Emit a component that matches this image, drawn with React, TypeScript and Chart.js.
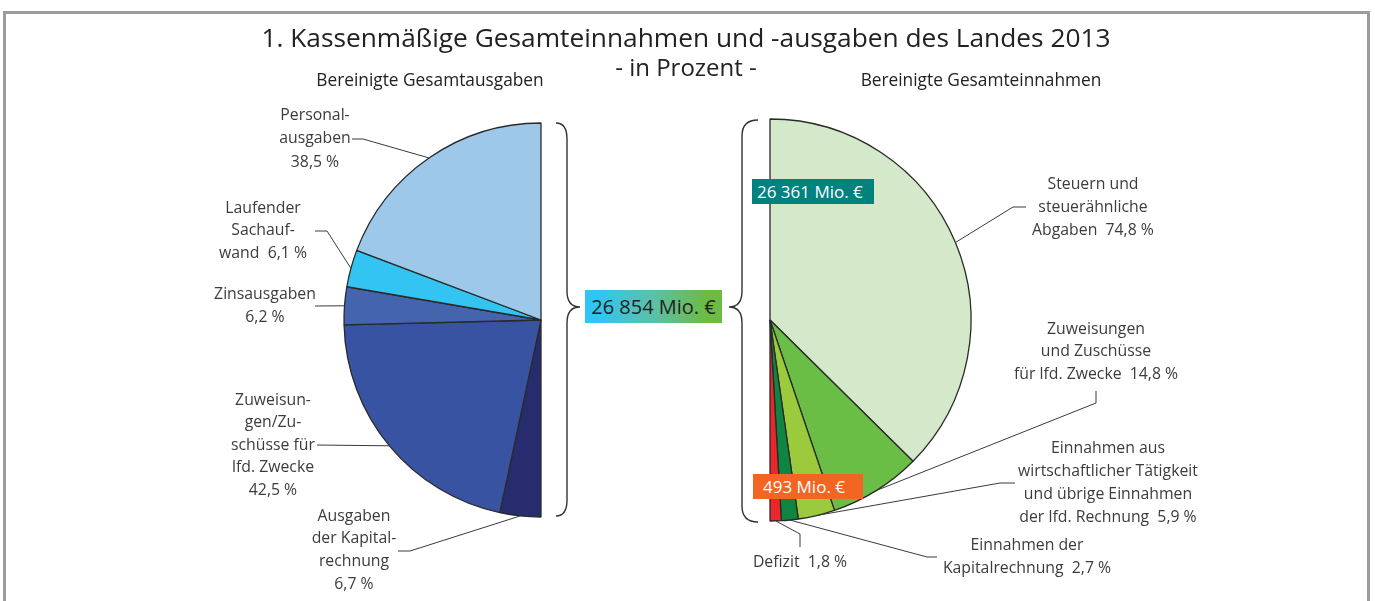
import React, { useEffect, useRef } from "react";
import { Chart, registerables } from "chart.js";
Chart.register(...registerables);

const W = 1375;
const H = 601;

// ---------- DATA ----------
// Bereinigte Gesamtausgaben (listed from bottom to top of the left half-pie)
const ausgabenLabels = [
  "Ausgaben der Kapitalrechnung",
  "Zuweisungen/Zuschüsse für lfd. Zwecke",
  "Zinsausgaben",
  "Laufender Sachaufwand",
  "Personalausgaben",
];
const ausgabenValues = [6.7, 42.5, 6.2, 6.1, 38.5];
const ausgabenText = [
  ["Ausgaben", "der Kapital-", "rechnung", "{v}"],
  ["Zuweisun-", "gen/Zu-", "schüsse für", "lfd. Zwecke", "{v}"],
  ["Zinsausgaben", "{v}"],
  ["Laufender", "Sachauf-", "wand  {v}"],
  ["Personal-", "ausgaben", "{v}"],
];

// Bereinigte Gesamteinnahmen (listed from top to bottom of the right half-pie)
const einnahmenLabels = [
  "Steuern und steuerähnliche Abgaben",
  "Zuweisungen und Zuschüsse für lfd. Zwecke",
  "Einnahmen aus wirtschaftlicher Tätigkeit und übrige Einnahmen der lfd. Rechnung",
  "Einnahmen der Kapitalrechnung",
  "Defizit",
];
const einnahmenValues = [74.8, 14.8, 5.9, 2.7, 1.8];
const einnahmenText = [
  ["Steuern und", "steuerähnliche", "Abgaben  {v}"],
  ["Zuweisungen", "und Zuschüsse", "für lfd. Zwecke  {v}"],
  ["Einnahmen aus", "wirtschaftlicher Tätigkeit", "und übrige Einnahmen", "der lfd. Rechnung  {v}"],
  ["Einnahmen der", "Kapitalrechnung  {v}"],
  ["Defizit  {v}"],
];

const titleText = "1. Kassenmäßige Gesamteinnahmen und -ausgaben des Landes 2013";
const subtitleText = "- in Prozent -";
const leftHeading = "Bereinigte Gesamtausgaben";
const rightHeading = "Bereinigte Gesamteinnahmen";
const totalText = "26 854 Mio. €";
const einnahmenTotalText = "26 361 Mio. €";
const defizitText = "493 Mio. €";

// ---------- STYLES / LAYOUT ----------
const ausgabenColors = ["#272c6f", "#3953a3", "#4564ae", "#33c4f1", "#9ec8e9"];
const einnahmenColors = ["#d4e8ca", "#6abd45", "#9bca3c", "#0f8542", "#e8262b"];
const FONT = "'Open Sans', 'Noto Sans', sans-serif";

type LabelLayout = { cx: number; y0: number; lh: number; path: number[][] };

const ausgabenLayout: LabelLayout[] = [
  { cx: 354, y0: 516, lh: 22.7, path: [[410, 551], [398, 551]] },
  { cx: 273, y0: 400, lh: 22.5, path: [[317, 445]] },
  { cx: 265, y0: 294, lh: 23.5, path: [[315, 306]] },
  { cx: 263, y0: 208, lh: 22.5, path: [[327, 231], [315, 231]] },
  { cx: 315, y0: 115, lh: 23.5, path: [[363, 139], [352, 139]] },
];
const einnahmenLayout: LabelLayout[] = [
  { cx: 1093, y0: 184, lh: 23, path: [[1013, 207], [1026, 207]] },
  { cx: 1096, y0: 329, lh: 22.5, path: [[1096, 403], [1096, 391]] },
  { cx: 1108, y0: 448, lh: 23, path: [[1000, 483], [1015, 483]] },
  { cx: 1027, y0: 545, lh: 23, path: [[927, 557], [937, 557]] },
  { cx: 800, y0: 562, lh: 23, path: [[800, 534], [800, 547]] },
];

const fmt = (v: number) => v.toFixed(1).replace(".", ",") + " %";

function labelPlugin(id: string, values: number[], texts: string[][], layout: LabelLayout[]) {
  return {
    id,
    afterDatasetsDraw(chart: any) {
      const ctx = chart.ctx;
      const meta = chart.getDatasetMeta(0);
      ctx.save();
      meta.data.forEach((arc: any, i: number) => {
        const p = arc.getProps(["x", "y", "startAngle", "endAngle", "outerRadius"], true);
        const mid = (p.startAngle + p.endAngle) / 2;
        const ax = p.x + Math.cos(mid) * p.outerRadius;
        const ay = p.y + Math.sin(mid) * p.outerRadius;
        const L = layout[i];
        ctx.strokeStyle = "#3a3a3a";
        ctx.lineWidth = 1;
        ctx.beginPath();
        ctx.moveTo(ax, ay);
        L.path.forEach((pt) => ctx.lineTo(pt[0], pt[1]));
        ctx.stroke();
        ctx.fillStyle = "#3c3c3c";
        ctx.font = `15.8px ${FONT}`;
        ctx.textAlign = "center";
        ctx.textBaseline = "middle";
        texts[i].forEach((line, k) => {
          ctx.fillText(line.replace("{v}", fmt(values[i])), L.cx, L.y0 + k * L.lh);
        });
      });
      ctx.restore();
    },
  };
}

function drawBrace(ctx: any, x0: number, x1: number, xt: number, yTop: number, yMid: number, yBot: number, r: number) {
  ctx.beginPath();
  ctx.moveTo(x0, yTop);
  ctx.quadraticCurveTo(x1, yTop, x1, yTop + r);
  ctx.lineTo(x1, yMid - r);
  ctx.quadraticCurveTo(x1, yMid, xt, yMid);
  ctx.quadraticCurveTo(x1, yMid, x1, yMid + r);
  ctx.lineTo(x1, yBot - r);
  ctx.quadraticCurveTo(x1, yBot, x0, yBot);
  ctx.stroke();
}

const bracePlugin = {
  id: "braces",
  afterDraw(chart: any) {
    const ctx = chart.ctx;
    ctx.save();
    ctx.strokeStyle = "#333";
    ctx.lineWidth = 1.4;
    drawBrace(ctx, 556, 567, 580, 123, 307, 516, 16);
    drawBrace(ctx, 758, 742, 729, 120, 307, 522, 16);
    ctx.restore();
  },
};

function makePie(
  canvas: HTMLCanvasElement,
  labels: string[],
  values: number[],
  colors: string[],
  rotation: number,
  radius: number,
  padding: any,
  extra: any[]
) {
  return new Chart(canvas, {
    type: "pie",
    data: {
      labels,
      datasets: [
        {
          data: values,
          backgroundColor: colors,
          borderColor: "#2a2a2a",
          borderWidth: 1.3,
          rotation,
          circumference: 180,
          radius,
        } as any,
      ],
    },
    options: {
      responsive: false,
      animation: false,
      events: [],
      rotation,
      circumference: 180,
      layout: { padding },
      plugins: {
        legend: { display: false },
        tooltip: { enabled: false },
        title: { display: false },
      },
    } as any,
    plugins: extra,
  });
}

const Txt = ({ cx, cy, size, color, children }: any) => (
  <div
    style={{
      position: "absolute",
      left: cx - 500,
      width: 1000,
      top: cy - size * 0.7,
      height: size * 1.4,
      lineHeight: `${size * 1.4}px`,
      fontSize: size,
      color,
      textAlign: "center",
      fontFamily: FONT,
      whiteSpace: "nowrap",
    }}
  >
    {children}
  </div>
);

const boxBase: any = {
  position: "absolute",
  fontFamily: FONT,
  whiteSpace: "nowrap",
  boxSizing: "border-box",
};

export default function App() {
  const leftRef = useRef<HTMLCanvasElement>(null);
  const rightRef = useRef<HTMLCanvasElement>(null);

  useEffect(() => {
    const left = makePie(
      leftRef.current!,
      ausgabenLabels,
      ausgabenValues,
      ausgabenColors,
      180,
      197,
      { left: 344, right: W - 541, top: 123, bottom: H - 517 },
      [labelPlugin("leftLabels", ausgabenValues, ausgabenText, ausgabenLayout), bracePlugin]
    );
    const right = makePie(
      rightRef.current!,
      einnahmenLabels,
      einnahmenValues,
      einnahmenColors,
      0,
      201,
      { left: 770, right: W - 971, top: 119, bottom: H - 521 },
      [labelPlugin("rightLabels", einnahmenValues, einnahmenText, einnahmenLayout)]
    );
    return () => {
      left.destroy();
      right.destroy();
    };
  }, []);

  const canvasStyle: any = { position: "absolute", left: 0, top: 0, width: W, height: H };

  return (
    <div style={{ position: "absolute", left: 0, top: 0, width: W, height: H, overflow: "hidden", background: "#fff" }}>
      <div
        style={{
          position: "absolute",
          left: 3,
          top: 11,
          width: 1367,
          height: 700,
          border: "3px solid #9c9c9c",
          boxSizing: "border-box",
        }}
      />
      <canvas ref={leftRef} width={W} height={H} style={canvasStyle} />
      <canvas ref={rightRef} width={W} height={H} style={canvasStyle} />
      <Txt cx={686} cy={37} size={26.3} color="#222">{titleText}</Txt>
      <Txt cx={686} cy={67} size={24} color="#222">{subtitleText}</Txt>
      <Txt cx={430} cy={80} size={17.3} color="#222">{leftHeading}</Txt>
      <Txt cx={981} cy={80} size={17.3} color="#222">{rightHeading}</Txt>
      <div
        style={{
          ...boxBase,
          left: 585,
          top: 290,
          width: 137,
          height: 33,
          lineHeight: "33px",
          background: "linear-gradient(90deg, #2fc6f5 8%, #5cc0a8 50%, #6bbb44 88%)",
          fontSize: 20,
          color: "#222",
          textAlign: "center",
        }}
      >
        {totalText}
      </div>
      <div
        style={{
          ...boxBase,
          left: 752,
          top: 179,
          width: 122,
          height: 25,
          lineHeight: "25px",
          paddingLeft: 5,
          background: "#00827e",
          fontSize: 17,
          color: "#fff",
        }}
      >
        {einnahmenTotalText}
      </div>
      <div
        style={{
          ...boxBase,
          left: 753,
          top: 474,
          width: 110,
          height: 25,
          lineHeight: "25px",
          paddingLeft: 10,
          background: "#f26522",
          fontSize: 17,
          color: "#fff",
        }}
      >
        {defizitText}
      </div>
    </div>
  );
}
